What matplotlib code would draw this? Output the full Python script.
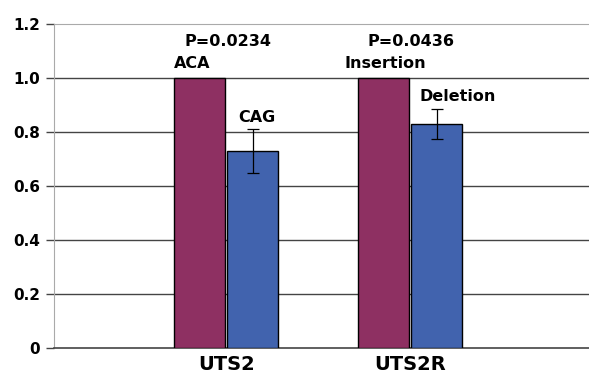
import numpy as np
import matplotlib.pyplot as plt

genes = ['UTS2', 'UTS2R']
wild = [1.0, 1.0]
variant = [0.73, 0.83]
variant_err = [0.08, 0.056]
p_labels = ['P=0.0234', 'P=0.0436']
wild_names = ['ACA', 'Insertion']
var_names = ['CAG', 'Deletion']

plt.rcParams['font.family'] = ['DejaVu Sans']
plt.rcParams['font.weight'] = 'bold'

fig = plt.figure(figsize=(5.89, 3.77), dpi=100)
ax = fig.add_axes([0.0917, 0.077, 0.9083, 0.859])

x = np.arange(len(genes))
w = 0.277
ax.bar(x - w/2 - 0.005, wild, w, color='#8e3062', edgecolor='black', linewidth=1, zorder=3)
ax.bar(x + w/2 + 0.005, variant, w, color='#4163ae', edgecolor='black', linewidth=1, zorder=3)
ax.errorbar(x + w/2 + 0.005, variant, yerr=variant_err, fmt='none', ecolor='black',
            elinewidth=0.9, capsize=4, capthick=0.9, zorder=4)

p_off = [0.01, 0.005]
name_off = [-w - 0.005, -0.355]
var_off = [0.064, 0.052]
for i in range(len(genes)):
    ax.text(x[i] + p_off[i], 1.135, p_labels[i], ha='center', va='center', fontsize=11.5, fontweight='bold')
    ax.text(x[i] + name_off[i], 1.055, wild_names[i], ha='left', va='center', fontsize=11.5, fontweight='bold')
    ax.text(x[i] + var_off[i], variant[i] + variant_err[i] + 0.045, var_names[i], ha='left', va='center',
            fontsize=11.5, fontweight='bold')

ax.set_xlim(-0.935, 1.97)
ax.set_ylim(0, 1.2)
ax.set_yticks([0, 0.2, 0.4, 0.6, 0.8, 1.0, 1.2])
ax.set_yticklabels(['0', '0.2', '0.4', '0.6', '0.8', '1.0', '1.2'], fontsize=11, fontweight='bold')
ax.set_xticks(x)
ax.set_xticklabels(genes, fontsize=14, fontweight='bold')
ax.tick_params(axis='x', length=0, pad=5)
ax.tick_params(axis='y', length=6, width=1, color='#444444', pad=4)

for yv in [0.2, 0.4, 0.6, 0.8, 1.0]:
    ax.axhline(yv, color='#444444', linewidth=1, zorder=1)

ax.spines['right'].set_visible(False)
ax.spines['top'].set_color('#aaaaaa')
ax.spines['left'].set_color('#aaaaaa')
ax.spines['bottom'].set_color('#444444')
ax.spines['bottom'].set_linewidth(1.2)

fig.savefig('out.png', dpi=100)
